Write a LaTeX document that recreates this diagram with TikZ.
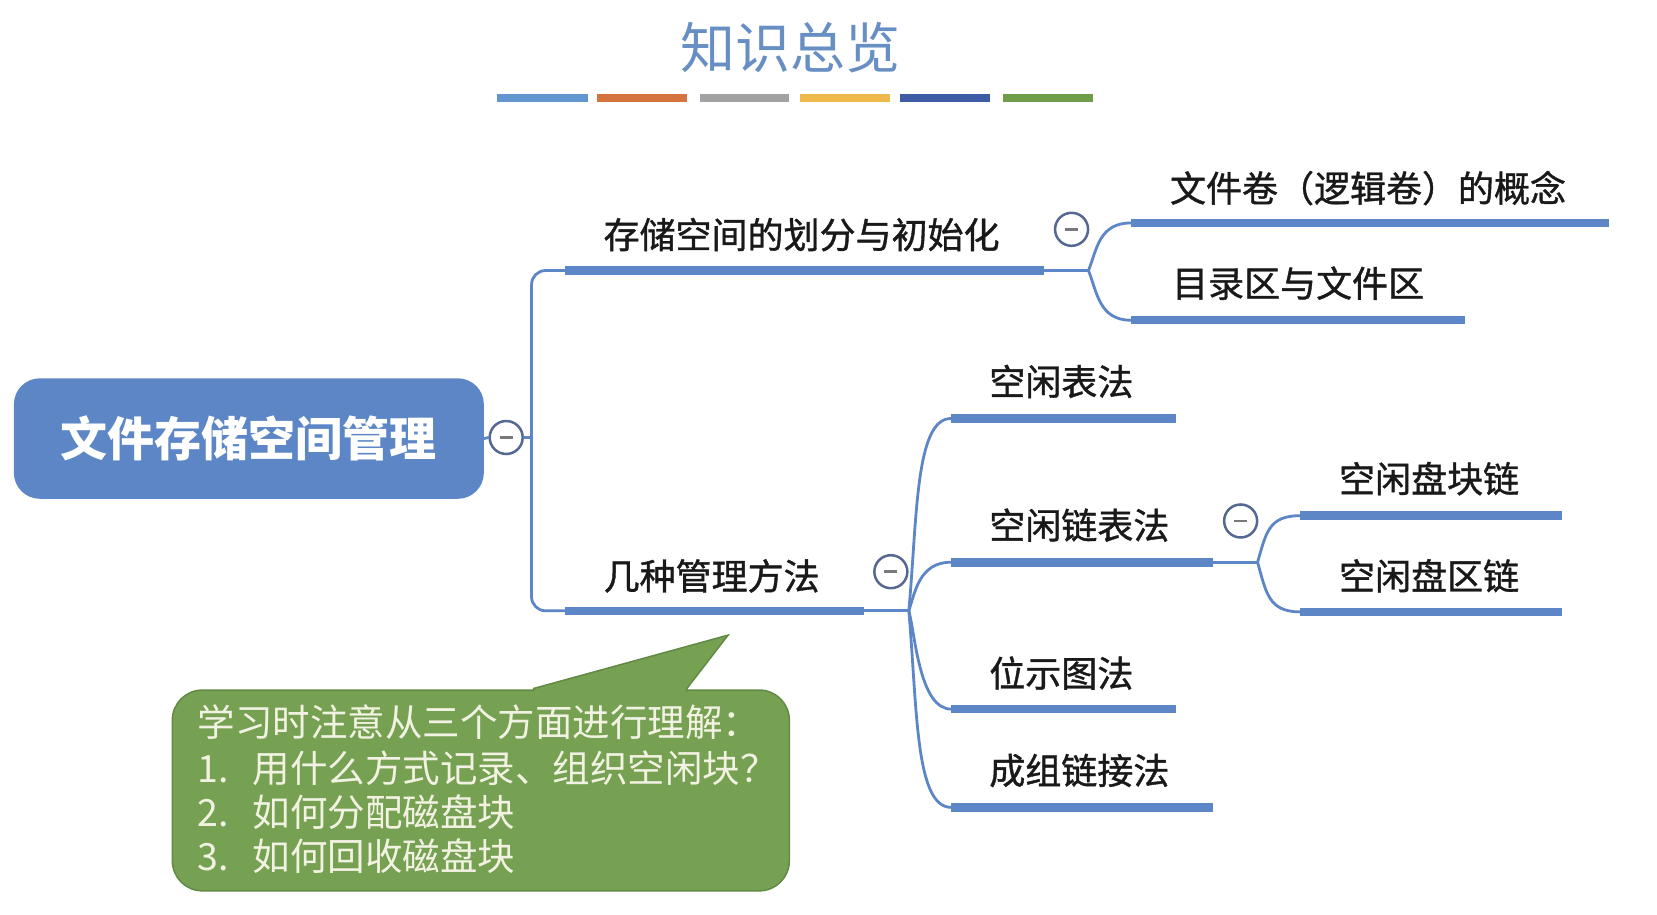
\documentclass[tikz,border=0pt]{standalone}
\usepackage{fontspec}
\newfontfamily\cjk{Noto Sans CJK SC}
\newfontfamily\cjkm[FakeBold=1.1]{Noto Sans CJK SC}
\usetikzlibrary{calc}
\definecolor{mblue}{RGB}{92,134,197}
\definecolor{titleblue}{RGB}{104,143,196}
\definecolor{foldc}{RGB}{84,104,146}
\definecolor{minusc}{RGB}{120,120,125}
\definecolor{ngreen}{RGB}{118,160,82}
\definecolor{nborder}{RGB}{98,138,68}
\definecolor{ntext}{RGB}{242,242,226}
\definecolor{cA}{RGB}{98,150,208}
\definecolor{cB}{RGB}{214,116,64}
\definecolor{cC}{RGB}{162,162,162}
\definecolor{cD}{RGB}{238,184,74}
\definecolor{cE}{RGB}{62,92,166}
\definecolor{cF}{RGB}{112,158,72}
\tikzset{
  lbl/.style={anchor=base west, inner sep=0pt, text=black!90, font=\cjkm\fontsize{36}{40}\selectfont},
  notetxt/.style={anchor=base west, inner sep=0pt, text=ntext, font=\cjk\fontsize{37.5}{44}\selectfont},
  bar/.style={draw=mblue, line width=8.6pt, line cap=butt},
  conn/.style={draw=mblue, line width=2.8pt, line cap=round},
  tbar/.style={line width=8pt, line cap=butt},
  fold/.style={circle, draw=foldc, line width=2.5pt, fill=white, minimum size=33pt, inner sep=0pt,
    path picture={\draw[minusc, line width=2.6pt] ($(path picture bounding box.center)+(-6.5pt,0)$) -- ++(13pt,0);}},
  rootbox/.style={rounded corners=26pt, fill=mblue, minimum width=470pt, minimum height=120.5pt, inner sep=0pt,
    text=white, font=\cjk\bfseries\fontsize{47}{50}\selectfont},
  notebox/.style={rounded corners=30pt, fill=ngreen, draw=nborder, line width=1.5pt, minimum width=617pt, minimum height=200.8pt, inner sep=0pt},
}
\begin{document}
\begin{tikzpicture}[x=1.0568pt,y=-1.0568pt]
\useasboundingbox (0,0) rectangle (1568,865.8);
% title
\node[anchor=base, inner sep=0pt, text=titleblue, font=\cjk\fontsize{55}{60}\selectfont] (title) at (748,65) {知识总览};
\draw[tbar, cA] (470,92.5) -- (556,92.5);
\draw[tbar, cB] (565,92.5) -- (650,92.5);
\draw[tbar, cC] (662,92.5) -- (747,92.5);
\draw[tbar, cD] (757,92.5) -- (842,92.5);
\draw[tbar, cE] (852,92.5) -- (937,92.5);
\draw[tbar, cF] (949,92.5) -- (1034,92.5);

% coordinates
\coordinate (trunk) at (503,414);
\coordinate (b1s) at (535,256);  \coordinate (b1e) at (988,256);  \coordinate (k1) at (1030,256);
\coordinate (b2s) at (535,578);  \coordinate (b2e) at (818,578);  \coordinate (k2) at (860,578);
\coordinate (c11s) at (1070,211); \coordinate (c11e) at (1523,211);
\coordinate (c12s) at (1070,303); \coordinate (c12e) at (1386,303);
\coordinate (c21s) at (900,396); \coordinate (c21e) at (1113,396);
\coordinate (c22s) at (900,532); \coordinate (c22e) at (1148,532); \coordinate (k3) at (1190,532);
\coordinate (c23s) at (900,671); \coordinate (c23e) at (1113,671);
\coordinate (c24s) at (900,764); \coordinate (c24e) at (1148,764);
\coordinate (c221s) at (1230,488); \coordinate (c221e) at (1478,488);
\coordinate (c222s) at (1230,579); \coordinate (c222e) at (1478,579);

% root
\node[rootbox] (root) at (235.5,415) {文件存储空间管理};
\node[fold] (f0) at (479,414) {};
\draw[conn] (root.east) -- (f0.west);
\draw[conn] (f0.east) -- (trunk);
\draw[conn, rounded corners=14pt] (b1s) -- (503,256) -- (503,578) -- (b2s);

% branch 1
\draw[conn] (b1e) -- (k1);
\draw[conn] (k1) .. controls (1038,236) and (1040,211) .. (c11s);
\draw[conn] (k1) .. controls (1038,276) and (1040,303) .. (c12s);
\draw[bar] (b1s) -- (b1e);
\draw[bar] (c11s) -- (c11e);
\draw[bar] (c12s) -- (c12e);

% branch 2
\draw[conn] (b2e) -- (k2);
\draw[conn] (k2) .. controls (868,490) and (866,396) .. (c21s);
\draw[conn] (k2) .. controls (866,560) and (870,532) .. (c22s);
\draw[conn] (k2) .. controls (866,600) and (870,671) .. (c23s);
\draw[conn] (k2) .. controls (868,670) and (866,764) .. (c24s);
\draw[conn] (c22e) -- (k3);
\draw[conn] (k3) .. controls (1198,505) and (1200,488) .. (c221s);
\draw[conn] (k3) .. controls (1198,560) and (1200,579) .. (c222s);
\draw[bar] (b2s) -- (b2e);
\draw[bar] (c21s) -- (c21e);
\draw[bar] (c22s) -- (c22e);
\draw[bar] (c23s) -- (c23e);
\draw[bar] (c24s) -- (c24e);
\draw[bar] (c221s) -- (c221e);
\draw[bar] (c222s) -- (c222e);

% labels
\node[lbl] (L1) at (571,235) {存储空间的划分与初始化};
\node[lbl] (L11) at (1107,191) {文件卷（逻辑卷）的概念};
\node[lbl] (L12) at (1109,281) {目录区与文件区};
\node[lbl] (L2) at (571,558) {几种管理方法};
\node[lbl] (L21) at (936,374) {空闲表法};
\node[lbl] (L22) at (936,510) {空闲链表法};
\node[lbl] (L221) at (1267,466) {空闲盘块链};
\node[lbl] (L222) at (1267,558) {空闲盘区链};
\node[lbl] (L23) at (936,650) {位示图法};
\node[lbl] (L24) at (936,742) {成组链接法};

% fold buttons
\node[fold] (f1) at (1014,217) {};
\node[fold] (f2) at (843,541) {};
\node[fold] (f3) at (1174,493) {};

% callout
\node[notebox] (note) at (455,748) {};
\coordinate (tip) at (689,601);
\filldraw[fill=ngreen, draw=nborder, line width=1.5pt, line join=miter] ($(note.north)+(50,2)$) -- ($(note.north)+(50,-0.8)$) -- (tip) -- ($(note.north)+(195,-0.8)$) -- ($(note.north)+(195,2)$);
\fill[ngreen] ($(note.north)+(51,3)$) rectangle ($(note.north)+(194,-0.5)$);
\node[notetxt] (n0) at (187,697) {学习时注意从三个方面进行理解：};
\node[notetxt] (n1) at (187,740) {\makebox[55pt][l]{1.}用什么方式记录、组织空闲块？};
\node[notetxt] (n2) at (187,782) {\makebox[55pt][l]{2.}如何分配磁盘块};
\node[notetxt] (n3) at (187,824) {\makebox[55pt][l]{3.}如何回收磁盘块};
\end{tikzpicture}
\end{document}
